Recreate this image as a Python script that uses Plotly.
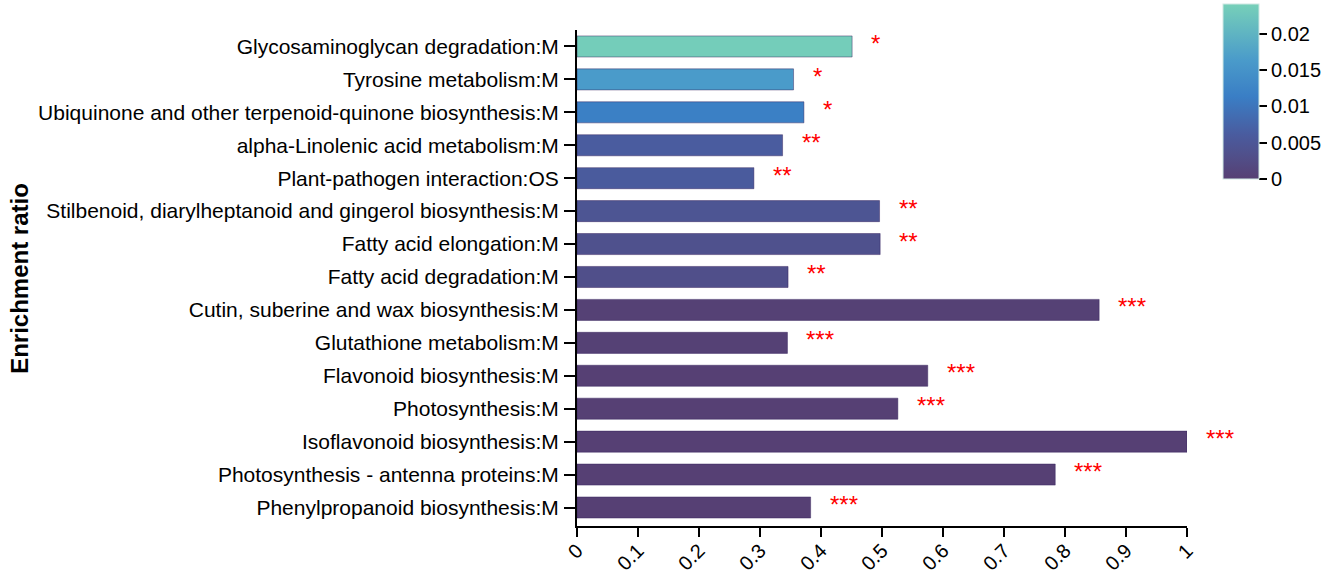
import plotly.graph_objects as go

categories = [
    "Glycosaminoglycan degradation:M",
    "Tyrosine metabolism:M",
    "Ubiquinone and other terpenoid-quinone biosynthesis:M",
    "alpha-Linolenic acid metabolism:M",
    "Plant-pathogen interaction:OS",
    "Stilbenoid, diarylheptanoid and gingerol biosynthesis:M",
    "Fatty acid elongation:M",
    "Fatty acid degradation:M",
    "Cutin, suberine and wax biosynthesis:M",
    "Glutathione metabolism:M",
    "Flavonoid biosynthesis:M",
    "Photosynthesis:M",
    "Isoflavonoid biosynthesis:M",
    "Photosynthesis - antenna proteins:M",
    "Phenylpropanoid biosynthesis:M",
]
enrichment_ratio = [0.451, 0.355, 0.372, 0.337, 0.290, 0.496, 0.497, 0.346,
                    0.856, 0.345, 0.575, 0.526, 1.0, 0.784, 0.383]
p_values = [0.0238, 0.0165, 0.0118, 0.0062, 0.0060, 0.0045, 0.0036, 0.0032,
            0.0003, 0.0003, 0.0002, 0.0002, 0.0001, 0.0001, 0.0001]
stars = ["*", "*", "*", "**", "**", "**", "**", "**",
         "***", "***", "***", "***", "***", "***", "***"]
x_ticks = [0, 0.1, 0.2, 0.3, 0.4, 0.5, 0.6, 0.7, 0.8, 0.9, 1]
x_tick_labels = ["0", "0.1", "0.2", "0.3", "0.4", "0.5", "0.6", "0.7", "0.8", "0.9", "1"]
cbar_ticks = [0, 0.005, 0.01, 0.015, 0.02]
cbar_tick_labels = ["0", "0.005", "0.01", "0.015", "0.02"]

colorscale = [
    [0.0, "#563F73"],
    [0.12, "#514E88"],
    [0.25, "#4A5B9E"],
    [0.47, "#3A7EC5"],
    [0.68, "#4A9BCA"],
    [1.0, "#77D0B9"],
]

FONT = "Liberation Sans, Arial, sans-serif"

fig = go.Figure()
fig.add_trace(go.Bar(
    x=enrichment_ratio,
    y=categories,
    orientation="h",
    width=0.64,
    marker=dict(
        color=p_values,
        colorscale=colorscale,
        cmin=0,
        cmax=0.0243,
        line=dict(color="rgba(50,30,90,0.45)", width=1),
        colorbar=dict(
            thickness=36,
            len=175,
            lenmode="pixels",
            x=1.059,
            xanchor="left",
            y=1.0534,
            yanchor="top",
            xpad=0,
            ypad=0,
            outlinewidth=1,
            outlinecolor="#cfe8e3",
            tickvals=cbar_ticks,
            ticktext=cbar_tick_labels,
            ticks="outside",
            ticklen=8,
            tickwidth=1.5,
            tickcolor="black",
            tickfont=dict(family=FONT, size=20, color="black"),
        ),
    ),
    showlegend=False,
))

for cat, val, s in zip(categories, enrichment_ratio, stars):
    fig.add_annotation(
        x=val, y=cat, text=s, showarrow=False,
        xanchor="left", yanchor="middle", xshift=17, yshift=3,
        font=dict(family=FONT, size=24, color="red"),
    )

fig.update_layout(
    width=1325,
    height=582,
    margin=dict(l=577, r=138, t=30, b=56, autoexpand=False),
    plot_bgcolor="white",
    paper_bgcolor="white",
    font=dict(family=FONT, color="black"),
    xaxis=dict(
        range=[0, 1],
        tickvals=x_ticks,
        ticktext=x_tick_labels,
        tickangle=-45,
        ticks="outside",
        ticklen=9,
        tickwidth=2,
        tickcolor="black",
        showline=True,
        linecolor="black",
        linewidth=2,
        showgrid=False,
        zeroline=False,
        tickfont=dict(family=FONT, size=20, color="black"),
        ticklabelstandoff=-6,
        automargin=False,
    ),
    yaxis=dict(
        autorange="reversed",
        ticks="outside",
        ticklen=11,
        tickwidth=2,
        tickcolor="black",
        showline=True,
        linecolor="black",
        linewidth=2,
        showgrid=False,
        tickfont=dict(family=FONT, size=21, color="black"),
        ticklabelstandoff=1,
        automargin=False,
    ),
)

fig.add_annotation(
    xref="paper", yref="paper", x=-0.915, y=0.5,
    text="<b>Enrichment ratio</b>", showarrow=False, textangle=-90,
    font=dict(family=FONT, size=24, color="black"),
    xanchor="center", yanchor="middle",
)

fig.write_html(
    "out.html",
    config={"displayModeBar": False},
    post_script="document.body.style.margin='0';document.body.style.overflow='hidden';",
)
